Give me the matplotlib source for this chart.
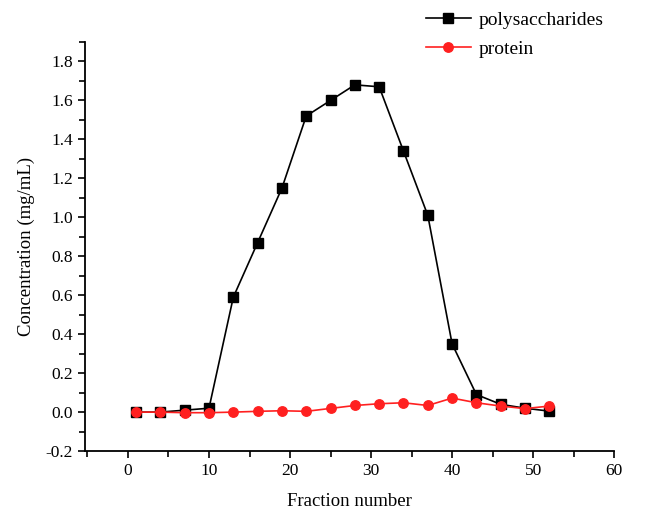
import matplotlib
matplotlib.use("Agg")
import matplotlib.pyplot as plt
from matplotlib.ticker import MultipleLocator

# Fraction numbers and measured concentrations
fractions = [1, 4, 7, 10, 13, 16, 19, 22, 25, 28, 31, 34, 37, 40, 43, 46, 49, 52]
polysaccharides = [0.0, 0.0, 0.01, 0.02, 0.59, 0.87, 1.15, 1.52, 1.60, 1.68,
                   1.67, 1.34, 1.01, 0.35, 0.09, 0.04, 0.02, 0.005]
protein = [0.0, 0.0, -0.003, -0.003, 0.0, 0.004, 0.007, 0.004, 0.019, 0.034,
           0.043, 0.048, 0.034, 0.072, 0.048, 0.031, 0.018, 0.031]

plt.rcParams['font.family'] = ['Liberation Serif', 'DejaVu Serif']

fig = plt.figure(figsize=(6.59, 5.12), dpi=100)
ax = fig.add_axes([0.129, 0.119, 0.803, 0.799])

l1, = ax.plot(fractions, polysaccharides, color='black', lw=1.2, marker='s',
              ms=6.8, label='polysaccharides', zorder=2)
l2, = ax.plot(fractions, protein, color='#ff2020', lw=1.2, marker='o',
              ms=6.8, label='protein', zorder=3)

ax.set_xlim(-5.3, 60)
ax.set_ylim(-0.2, 1.9)
ax.xaxis.set_major_locator(MultipleLocator(10))
ax.xaxis.set_minor_locator(MultipleLocator(5))
ax.yaxis.set_major_locator(MultipleLocator(0.2))
ax.yaxis.set_minor_locator(MultipleLocator(0.1))
ax.yaxis.set_major_formatter(plt.FuncFormatter(lambda v, p: f"{v:.1f}"))

for s in ['top', 'right']:
    ax.spines[s].set_visible(False)
for s in ['left', 'bottom']:
    ax.spines[s].set_linewidth(1.3)

ax.tick_params(which='both', direction='out', width=1.2, labelsize=12.5)
ax.tick_params(which='major', length=5)
ax.tick_params(which='minor', length=4)

ax.set_xlabel("Fraction number", fontsize=13.5, labelpad=10)
ax.set_ylabel("Concentration (mg/mL)", fontsize=13.5, labelpad=8)

fig.legend(handles=[l1, l2], loc='upper left', bbox_to_anchor=(0.62, 1.012),
           frameon=False, fontsize=14, handlelength=2.3, handletextpad=0.4,
           labelspacing=0.6)

fig.savefig("out.png", dpi=100)
